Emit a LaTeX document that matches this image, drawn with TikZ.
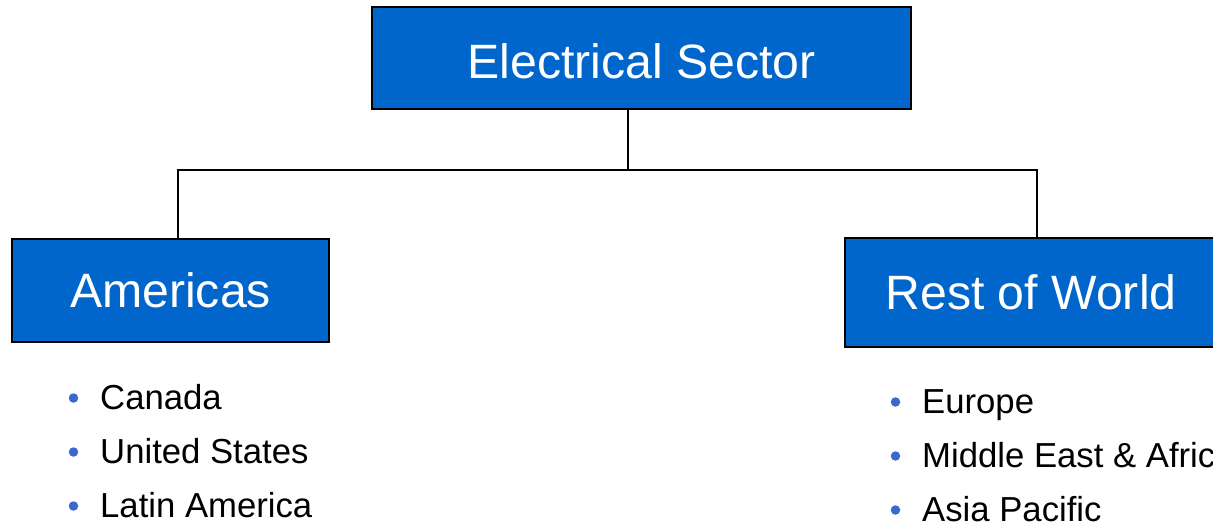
\documentclass[tikz,border=0pt]{standalone}
\usepackage{fontspec}
\setmainfont{Liberation Sans}
\definecolor{boxblue}{HTML}{0066CC}
\definecolor{dotblue}{HTML}{3A68D0}
\tikzset{
  bluebox/.style={draw=black, line width=1.6pt, fill=boxblue, text=white, inner sep=0pt, font=\fontsize{48.2}{50}\selectfont},
  boxtext/.style={text=white, inner sep=0pt, font=\fontsize{48.2}{50}\selectfont},
  item/.style={anchor=base west, inner sep=0pt, font=\fontsize{34.7}{38}\selectfont},
  dot/.style={circle, fill=dotblue, inner sep=0pt, minimum size=9.5pt},
  conn/.style={draw=black, line width=1.3pt}
}
\begin{document}
\begin{tikzpicture}[x=1pt,y=-1pt]
\useasboundingbox (0,0) rectangle (1213,524);
\clip (0,0) rectangle (1213,524);
\node[bluebox, minimum width=539pt, minimum height=102pt] (top) at (641.5,58) {};
\node[boxtext, yshift=-3.5pt] (toptext) at (top.center) {Electrical Sector};
\node[bluebox, minimum width=317pt, minimum height=103pt] (am) at (170.5,290.5) {Americas};
\node[bluebox, minimum width=372pt, minimum height=109pt] (row) at (1031,292.5) {Rest of World};
\coordinate (mid) at (628,170);
\draw[conn] ([xshift=-13.5pt]top.south) -- (mid);
\draw[conn] ([xshift=7.5pt]am.north) |- (mid) -| ([xshift=6pt]row.north);
% Americas list
\node[item] (c1) at (100,409) {Canada};
\node[item] (c2) at (100,463) {United States};
\node[item] (c3) at (100,517) {Latin America};
\node[dot] (d1) at (73.5,398) {};
\node[dot] (d2) at (73.5,452) {};
\node[dot] (d3) at (73.5,506) {};
% Rest of World list
\node[item] (r1) at (922,413) {Europe};
\node[item] (r2) at (922,467) {Middle East \& Africa};
\node[item] (r3) at (922,521) {Asia Pacific};
\node[dot] (e1) at (895.5,402) {};
\node[dot] (e2) at (895.5,456) {};
\node[dot] (e3) at (895.5,510) {};
\end{tikzpicture}
\end{document}
